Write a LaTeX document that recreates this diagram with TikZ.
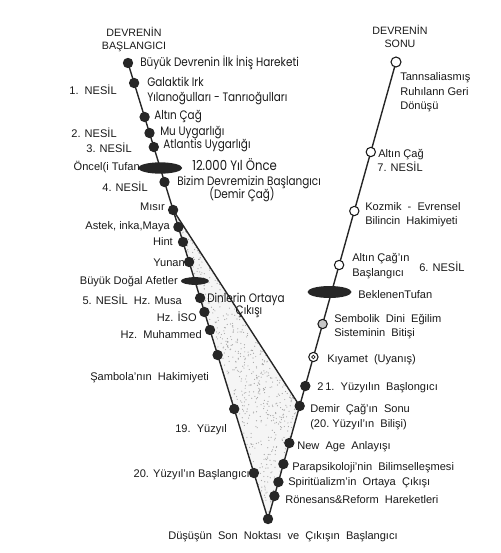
\documentclass[tikz,border=0pt]{standalone}
\usepackage{fontspec}
\setmainfont{Liberation Sans}
\newfontfamily\geofont[FakeStretch=0.85]{Poppins}
\usetikzlibrary{shapes.geometric,backgrounds}

\begin{document}
\begin{tikzpicture}[x=0.75pt,y=-0.75pt,
  lbl/.style={font=\fontsize{8.3}{10.8}\selectfont, text=black!90, inner sep=0pt},
  geo/.style={font=\geofont\fontsize{9.2}{11}\selectfont, text=black!90, inner sep=0pt},
  dot/.style={circle, fill=black!85, inner sep=0pt, minimum size=7.8pt},
  ring/.style={circle, draw=black!90, fill=white, line width=0.8pt, inner sep=0pt, minimum size=7pt},
  eye/.style={ring, path picture={\draw[line width=0.6pt] (path picture bounding box.center) circle (1.3pt);}},
  flood/.style={ellipse, fill=black!85, inner sep=0pt},
  track/.style={line width=1.05pt, black!85}]
\useasboundingbox (0,0) rectangle (500,553);

% descending branch
\node[dot] (ilk) at (128,63) {};
\node[dot] (galaktik) at (134.1,83) {};
\node[dot] (altin) at (144.6,117) {};
\node[dot] (mu) at (149.5,133) {};
\node[dot] (atlantis) at (153.8,147) {};
\node[flood, minimum width=33pt, minimum height=8.5pt] (oncel) at (160.2,168) {};
\node[dot] (bizim) at (164.5,182) {};
\node[dot] (misir) at (173.1,210) {};
\node[dot] (astek) at (178.4,227) {};
\node[dot] (hint) at (183,242) {};
\node[dot] (yunan) at (189.1,262) {};
\node[flood, minimum width=21pt, minimum height=5.8pt] (afet) at (194.9,281) {};
\node[dot] (musa) at (200.1,298) {};
\node[dot] (isa) at (204.4,312) {};
\node[dot] (muhammed) at (210,330) {};
\node[dot] (sambola) at (217.6,355) {};
\node[dot] (yuzyil19) at (234.2,409) {};
\node[dot] (yuzyil20) at (253.9,473) {};
\node[dot] (dip) at (268,519) {};

% ascending branch
\node[dot] (ronesans) at (274.4,496) {};
\node[dot] (spirit) at (278.4,482) {};
\node[dot] (para) at (283.4,464) {};
\node[dot] (newage) at (289.3,443) {};
\node[dot] (demirson) at (299.7,406) {};
\node[dot] (yuzyil21) at (305.3,386) {};
\node[eye] (kiyamet) at (313.4,357) {};
\node[ring, fill=gray!45] (sembolik) at (322.6,324) {};
\node[flood, minimum width=33pt, minimum height=9pt] (beklenen) at (329.5,292) {};
\node[ring] (altinbas) at (339.1,265) {};
\node[ring] (kozmik) at (354.3,211) {};
\node[ring] (altin7) at (370.8,152) {};
\node[ring, minimum size=7.5pt] (son) at (396,62) {};

\begin{scope}[on background layer]
  % stippled field of the religions
  \begin{scope}
    \clip (misir.center) -- (demirson.center) -- (dip.center) -- cycle;
    \fill[gray!8] (160,200) rectangle (320,530);
    \pgfmathsetseed{11}
    \foreach \i in {1,...,2000}{
      \pgfmathsetmacro\rx{173+127*rnd}
      \pgfmathsetmacro\ry{210+309*rnd}
      \fill[black!35] (\rx,\ry) circle (0.45pt);
    }
  \end{scope}
  \draw[track] (ilk.center) -- (dip.center) -- (son.center);
  \draw[track] (misir.center) -- (demirson.center);
\end{scope}

% headings
\node[lbl, align=center, font=\fontsize{8}{9.8}\selectfont] (basTitle) at (134,39.5) {DEVRENİN\\BAŞLANGICI};
\node[lbl, align=center, font=\fontsize{8}{9.8}\selectfont] (sonTitle) at (400,36.5) {DEVRENİN\\SONU};

% left-hand notes
\node[lbl, anchor=east] (n1) at (117,90) {1.\ \ NESİL};
\node[lbl, anchor=east] (n2) at (117,133) {2. NESİL};
\node[lbl, anchor=east] (n3) at (132,148) {3. NESİL};
\node[lbl, anchor=east] (toncel) at (140,167) {Öncel(i Tufan};
\node[lbl, anchor=east] (n4) at (148,187) {4. NESİL};
\node[lbl, anchor=east] (tmisir) at (165,207) {Mısır};
\node[lbl, anchor=east] (tastek) at (170,227) {Astek, inka,Maya};
\node[lbl, anchor=east] (thint) at (173,242) {Hint};
\node[lbl, anchor=east] (tyunan) at (185,263) {Yunan};
\node[lbl, anchor=east] (tafet) at (178,282) {Büyük Doğal Afetler};
\node[lbl, anchor=east] (tmusa) at (182,300) {5. NESİL\ \ Hz. Musa};
\node[lbl, anchor=east] (tisa) at (197,317) {Hz. İSO};
\node[lbl, anchor=east] (tmuh) at (202,335) {Hz.\ \ Muhammed};
\node[lbl, anchor=west] (tsamb) at (90,378) {Şambola’nın\ \ Hakimiyeti};
\node[lbl, anchor=west] (t19) at (175,430) {19.\ \ Yüzyıl};
\node[lbl, anchor=east] (t20) at (250,475) {20. Yüzyıl’ın Başlangıcı};
\node[lbl, anchor=west] (tdip) at (168,537) {Düşüşün\ \ Son\ \ Noktası\ \ ve\ \ Çıkışın\ \ Başlangıcı};

% notes along the descent
\node[geo, anchor=west] (tilk) at (140,63) {Büyük Devrenin İlk İniş Hareketi};
\node[geo, anchor=west] (tgal) at (147,82) {Galaktik Irk};
\node[geo, anchor=west] (tyil) at (147,99) {Yılanoğulları - Tanrıoğulları};
\node[geo, anchor=west] (taltin) at (154,117) {Altın Çağ};
\node[geo, anchor=west] (tmu) at (160,133) {Mu Uygarlığı};
\node[geo, anchor=west] (tatl) at (163,145) {Atlantis Uygarlığı};
\node[geo, anchor=west, font=\geofont\fontsize{10.3}{12}\selectfont] (t12) at (192,165) {12.000 Yıl Önce};
\node[geo, anchor=west] (tbizim) at (177,182) {Bizim Devremizin Başlangıcı};
\node[geo] (tdemir) at (242,194) {(Demir Çağ)};
\node[geo, anchor=west] (tdin) at (207,299) {Dinlerin Ortaya};
\node[geo] (tcik) at (249,312) {Çıkışı};

% right-hand notes
\node[lbl, anchor=west, align=left] (tgeri) at (400,92.5) {Tannsaliasmış\\Ruhılann Geri\\Dönüşü};
\node[lbl, anchor=west] (taltin7) at (378,155) {Altın Çağ};
\node[lbl] (n7) at (400,167) {7. NESİL};
\node[lbl, anchor=west] (tkoz1) at (365,207) {Kozmik\ \ -\ \ Evrensel};
\node[lbl, anchor=west] (tkoz2) at (365,222) {Bilincin\ \ Hakimiyeti};
\node[lbl, anchor=west, align=left] (tbas) at (352,266) {Altın Çağ’ın\\Başlangıcı};
\node[lbl, anchor=west] (n6) at (419,267) {6. NESİL};
\node[lbl, anchor=west] (tbek) at (358,295) {BeklenenTufan};
\node[lbl, anchor=west] (tsem1) at (334,320) {Sembolik\ \ Dini\ \ Eğilim};
\node[lbl, anchor=west] (tsem2) at (334,334) {Sisteminin\ \ Bitişi};
\node[lbl, anchor=west] (tkiy) at (327,360) {Kıyamet\ \ (Uyanış)};
\node[lbl, anchor=west] (t21) at (317,388) {2\,1.\ \ Yüzyılın\ \ Başlongıcı};
\node[lbl, anchor=west] (tds1) at (310,410) {Demir\ \ Çağ’ın\ \ Sonu};
\node[lbl, anchor=west] (tds2) at (310,425) {(20.\ Yüzyıl’ın\ \ Bilişi)};
\node[lbl, anchor=west] (tnew) at (297,447) {New\ \ Age\ \ Anlayışı};
\node[lbl, anchor=west] (tpara) at (292,468) {Parapsikoloji’nin\ \ Bilimselleşmesi};
\node[lbl, anchor=west] (tspir) at (288,483) {Spiritüalizm’in\ \ Ortaya\ \ Çıkışı};
\node[lbl, anchor=west] (tron) at (285,500) {Rönesans\&Reform\ \ Hareketleri};
\end{tikzpicture}
\end{document}
